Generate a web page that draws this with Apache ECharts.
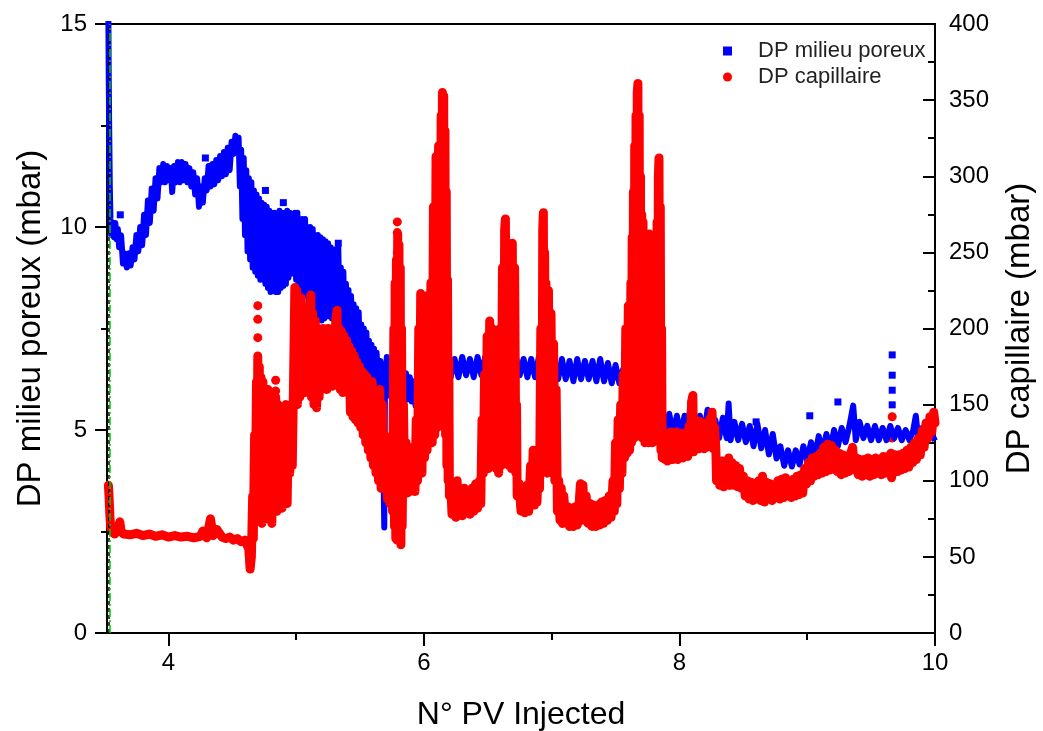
<!DOCTYPE html>
<html><head><meta charset="utf-8">
<script src="https://cdn.jsdelivr.net/npm/echarts@6/dist/echarts.min.js"></script>
<style>html,body{margin:0;padding:0;background:#fff}#c{width:1043px;height:731px}</style>
</head><body><div id="c"></div>
<script>
// ---- data (x = N° PV injected) ----
const xMajorTicks = [4, 6, 8, 10];
const xMinorTicks = [5, 7, 9];

// DP milieu poreux (mbar), left axis, dense band traced as zig-zag
const bluePoreux = [
[3.531,15.0],[3.534,13.5],[3.538,12.2],[3.542,11.0],[3.547,10.2],[3.553,9.8],
[3.565,10.1],[3.575,9.75],[3.585,10.1],[3.595,9.7],[3.605,9.95],
[3.615,9.5],[3.63,9.8],[3.645,9.1],[3.66,9.35],[3.675,9.0],[3.69,9.35],[3.705,9.05],[3.72,9.5],[3.735,9.2],[3.75,9.8],[3.765,9.4],
[3.78,10.0],[3.795,9.55],[3.81,10.3],[3.825,9.8],[3.84,10.65],[3.855,10.1],[3.87,10.95],[3.885,10.4],[3.9,11.2],[3.915,10.7],[3.93,11.45],
[3.945,11.1],[3.96,11.55],[3.975,11.1],[3.99,11.5],[4.005,11.15],[4.02,11.45],[4.03,10.86],[4.045,11.5],[4.06,11.1],
[4.075,11.6],[4.09,11.1],[4.105,11.6],[4.12,11.15],[4.135,11.55],[4.15,11.1],[4.165,11.45],[4.18,11.0],
[4.195,11.35],[4.21,10.8],[4.225,11.2],[4.24,10.5],[4.255,11.0],[4.27,10.6],[4.285,11.2],
[4.3,10.9],[4.315,11.5],[4.33,11.0],[4.345,11.55],[4.36,11.05],[4.375,11.65],[4.39,11.15],[4.405,11.75],[4.42,11.25],[4.435,11.85],[4.45,11.3],[4.465,11.95],[4.48,11.4],[4.495,12.1],
[4.51,11.8],[4.525,12.25],[4.54,11.85],[4.55,12.2],
[4.56,11.0],[4.57,11.9],[4.58,10.2],[4.59,11.7],[4.6,9.8],[4.61,11.4],[4.62,9.4],[4.63,11.2],[4.64,9.2],[4.65,11.1],[4.66,9.0],
[4.67,10.9],[4.68,8.9],[4.69,10.8],[4.7,8.8],[4.71,10.7],[4.72,8.7],[4.73,10.6],[4.74,8.8],[4.75,10.55],[4.76,8.6],[4.77,10.5],[4.78,8.5],[4.79,10.4],[4.8,8.4],[4.81,10.35],[4.82,8.45],[4.83,10.35],[4.84,8.4],
[4.85,10.3],[4.86,8.4],[4.87,10.4],[4.88,8.5],[4.89,10.35],[4.9,8.55],[4.91,10.35],[4.92,8.6],[4.93,10.4],[4.94,8.75],[4.95,10.35],[4.96,8.85],[4.97,10.3],[4.98,8.9],[4.99,10.35],[5.0,8.7],[5.01,10.35],[5.02,8.6],[5.03,10.2],[5.04,8.45],[5.05,10.2],
[5.06,8.35],[5.07,10.2],[5.08,8.3],[5.09,10.0],[5.1,8.15],[5.11,10.0],[5.12,7.95],[5.13,9.95],[5.14,7.9],[5.15,9.8],[5.16,7.8],[5.17,9.8],[5.18,7.75],[5.19,9.75],[5.2,7.7],
[5.21,9.7],[5.22,7.75],[5.23,9.65],[5.24,7.8],[5.25,9.6],[5.26,7.8],[5.27,9.5],[5.28,7.75],[5.29,9.45],[5.3,7.8],[5.31,9.4],[5.32,7.8],[5.33,9.5],[5.34,7.85],
[5.35,9.0],[5.36,7.2],[5.37,8.9],[5.38,7.0],[5.39,8.6],[5.4,6.95],[5.41,8.45],[5.42,6.95],[5.43,8.3],[5.44,6.9],[5.45,8.1],[5.46,6.85],[5.47,8.0],[5.48,6.8],[5.49,7.9],
[5.5,6.4],[5.51,7.6],[5.52,6.35],[5.53,7.5],[5.54,6.3],[5.55,7.4],[5.56,6.25],[5.57,7.2],[5.58,6.2],[5.59,7.1],[5.6,6.15],[5.61,7.0],[5.62,6.1],[5.63,6.9],[5.645,6.05],
[5.66,6.7],[5.675,6.0],[5.685,6.0],[5.69,2.6],[5.695,5.9],
[5.71,6.8],[5.725,5.85],[5.74,6.7],[5.755,5.8],[5.77,6.6],[5.785,5.85],[5.8,6.5],[5.815,5.8],[5.83,6.4],
[5.845,5.8],[5.86,6.4],[5.875,5.75],[5.89,6.3],[5.905,5.7],[5.92,6.2],[5.935,5.6],[5.95,6.1],[5.965,5.5],
[5.98,6.2],[5.995,5.5],[6.01,6.4],[6.025,5.5],[6.04,6.5],[6.055,5.6],[6.07,6.6],[6.085,5.7],[6.1,6.7],[6.115,5.9],[6.13,6.8],[6.145,6.1],[6.16,6.8],[6.175,6.3],
[6.19,6.8],[6.21,6.3],[6.24,6.75],[6.27,6.3],[6.3,6.8],[6.33,6.35],[6.36,6.75],[6.39,6.3],[6.42,6.8],[6.45,6.35],[6.48,6.8],[6.51,6.3],[6.54,6.75],[6.57,6.35],[6.6,6.8],[6.63,6.3],[6.66,6.75],[6.69,6.35],[6.72,6.8],[6.75,6.35],[6.78,6.75],[6.81,6.3],[6.84,6.75],[6.87,6.3],[6.9,6.8],
[6.93,6.3],[6.96,6.75],[6.99,6.25],[7.02,6.7],[7.05,6.25],[7.08,6.75],[7.11,6.25],[7.14,6.7],[7.17,6.2],[7.2,6.75],[7.23,6.25],[7.26,6.7],[7.29,6.25],[7.32,6.7],[7.35,6.2],[7.38,6.75],[7.41,6.2],[7.44,6.65],[7.47,6.15],[7.5,6.6],[7.53,6.15],
[7.56,6.5],[7.59,5.9],[7.62,6.2],[7.64,5.7],[7.66,5.9],[7.68,5.2],[7.7,5.7],[7.72,5.0],
[7.74,5.5],[7.77,4.9],[7.8,5.4],[7.83,4.85],[7.86,5.35],[7.89,4.85],[7.92,5.4],[7.95,4.9],[7.98,5.35],[8.01,4.85],[8.04,5.35],[8.07,4.9],[8.085,5.65],[8.1,5.35],[8.13,4.85],[8.16,5.35],[8.19,4.85],[8.22,5.5],[8.25,4.8],
[8.28,5.25],[8.31,4.8],[8.34,5.3],[8.37,4.8],[8.385,5.65],[8.4,4.75],[8.43,5.2],[8.46,4.75],[8.49,5.15],[8.52,4.7],[8.55,5.1],[8.58,4.6],[8.61,5.15],[8.64,4.55],[8.67,5.0],[8.7,4.4],[8.73,4.9],[8.76,4.3],[8.79,4.6],[8.82,4.12],[8.85,4.5],[8.88,4.1],[8.91,4.5],[8.94,4.15],[8.97,4.6],[9.0,4.25],[9.03,4.7],[9.06,4.35],[9.09,4.85],[9.12,4.45],[9.15,4.9],[9.18,4.5],[9.21,5.0],[9.24,4.6],[9.27,5.05],[9.3,4.7],[9.33,5.1],[9.36,5.6],[9.38,4.75],[9.41,5.2],[9.44,4.8],[9.47,5.1],[9.5,4.75],[9.53,5.1],[9.56,4.75],[9.59,5.05],[9.62,4.75],[9.65,5.1],[9.68,4.8],[9.71,5.05],[9.74,4.75],[9.77,5.0],[9.8,4.75],[9.83,5.0],[9.85,5.35],[9.87,4.75],[9.9,5.05],[9.93,4.75],[9.96,5.0],[9.99,4.8]
];
// isolated squares of DP milieu poreux
const bluePoreuxDots = [
[3.624,10.3],[4.29,11.7],[4.76,10.9],[4.9,10.6],[5.33,9.6],[8.6,5.2],[9.02,5.35],[9.24,5.69],
[9.665,6.85],[9.665,6.35],[9.665,5.98],[9.665,5.62]
];

// DP capillaire (mbar), right axis, dense band traced as zig-zag
const redCapillaire = [
[3.531,97],[3.537,88],[3.542,78],[3.548,70],[3.56,67],[3.58,65],[3.6,67],[3.62,73],[3.63,67],[3.65,65],
[3.7,64.5],[3.75,65.5],[3.8,64],[3.85,65],[3.9,63.5],[3.95,64.5],[4.0,63],[4.05,64],[4.1,63],[4.15,63.5],[4.2,62.5],[4.25,63.5],
[4.27,67],[4.3,62.5],[4.33,75],[4.35,64],[4.38,68],[4.42,63],[4.45,62],[4.48,63],[4.51,61],[4.54,62],[4.57,60],[4.6,61],[4.62,57],
[4.63,55],[4.64,42],[4.65,50],[4.66,90],[4.665,62],[4.675,130],[4.68,75],[4.69,165],[4.695,95],[4.7,182],[4.705,100],[4.712,175],[4.718,80],[4.725,168],[4.732,72],[4.74,165],[4.75,85],[4.76,160],[4.77,75],[4.78,160],[4.79,90],[4.8,158],[4.81,72],[4.82,150],[4.83,95],[4.84,155],[4.85,80],[4.86,150],[4.87,95],[4.88,145],[4.89,82],[4.9,140],[4.91,100],[4.92,150],[4.93,85],[4.94,145],[4.95,105],[4.96,150],[4.97,110],[4.98,165],
[4.99,227],[4.995,160],[5.005,225],[5.01,150],[5.02,215],[5.03,155],[5.04,220],[5.05,160],[5.06,205],[5.07,158],[5.08,210],[5.09,165],[5.1,215],[5.11,160],[5.115,222],[5.12,155],[5.13,210],[5.14,150],[5.15,205],[5.16,148],[5.17,200],[5.18,155],[5.19,198],[5.2,162],[5.21,200],[5.22,165],[5.23,195],[5.24,160],[5.25,200],[5.26,165],[5.27,198],[5.28,162],[5.29,200],[5.3,165],[5.31,205],[5.32,212],[5.325,165],[5.335,200],[5.345,160],[5.355,198],[5.365,158],[5.375,195],[5.385,160],[5.395,192],[5.405,158],
[5.415,188],[5.425,145],[5.435,185],[5.445,142],[5.455,182],[5.465,140],[5.475,178],[5.485,138],[5.495,175],[5.505,135],[5.515,172],[5.525,130],
[5.535,170],[5.545,125],[5.555,168],[5.565,120],[5.575,165],[5.585,115],[5.595,165],[5.605,110],[5.615,160],[5.625,105],[5.635,155],[5.645,100],[5.655,160],[5.665,95],[5.675,150],[5.685,100],[5.69,130],
[5.7,98],[5.705,120],[5.715,88],[5.725,118],[5.735,85],[5.745,115],[5.755,80],[5.765,200],[5.77,70],[5.775,230],[5.78,62],[5.785,245],[5.79,61],[5.795,262],[5.8,66],[5.805,255],[5.81,63],[5.815,240],[5.82,58],[5.825,200],[5.83,70],[5.84,150],[5.85,95],[5.86,125],[5.87,92],[5.88,122],[5.89,93],[5.9,120],[5.91,95],[5.92,122],[5.93,93],[5.94,140],[5.95,100],
[5.96,200],[5.965,110],[5.975,223],[5.985,105],[5.995,220],[6.005,115],[6.015,215],[6.025,120],[6.035,222],[6.045,125],[6.055,230],[6.065,125],[6.075,280],[6.085,130],[6.095,313],[6.105,135],[6.115,320],[6.125,140],[6.135,340],[6.14,150],[6.145,355],[6.15,170],[6.155,353],[6.16,160],[6.165,330],[6.17,130],[6.175,290],[6.18,110],[6.185,232],[6.19,100],[6.195,180],[6.2,90],
[6.21,98],[6.22,78],[6.235,95],[6.25,76],[6.26,100],[6.27,78],[6.285,92],[6.3,77],[6.315,95],[6.33,79],[6.345,92],[6.36,78],[6.375,95],[6.39,80],[6.405,98],[6.42,82],[6.435,100],[6.445,85],
[6.455,140],[6.465,105],[6.475,170],[6.485,110],[6.495,195],[6.505,108],[6.515,205],[6.525,112],[6.535,200],[6.545,110],[6.555,190],[6.565,108],[6.575,180],[6.585,105],[6.595,200],[6.605,110],[6.615,240],[6.625,112],[6.632,265],[6.638,272],[6.645,120],[6.655,245],[6.665,110],[6.675,250],[6.685,108],[6.692,256],[6.7,115],[6.71,240],[6.72,105],[6.725,150],[6.73,90],
[6.745,98],[6.76,80],[6.775,95],[6.79,79],[6.805,97],[6.82,80],[6.835,110],[6.845,85],[6.855,120],[6.865,84],[6.875,115],[6.885,86],[6.895,110],[6.905,95],[6.915,200],[6.925,110],[6.93,265],[6.935,276],[6.94,120],[6.945,250],[6.95,108],[6.955,230],[6.965,105],[6.975,225],[6.985,110],[6.995,210],[7.005,105],[7.015,190],[7.025,100],[7.035,160],[7.045,80],
[7.055,100],[7.065,74],[7.075,95],[7.085,72],[7.095,90],[7.11,73],[7.125,83],[7.14,70],[7.155,82],[7.17,70],[7.185,83],[7.2,71],[7.215,85],[7.225,98],[7.235,74],[7.245,97],[7.255,75],[7.27,90],[7.285,72],[7.3,85],[7.315,70],[7.33,84],[7.345,70],[7.36,84],[7.375,71],[7.39,86],[7.405,72],[7.42,87],[7.435,74],[7.45,90],[7.465,76],
[7.48,100],[7.49,80],[7.5,125],[7.51,85],[7.52,140],[7.53,95],[7.54,150],[7.55,105],[7.56,170],[7.57,115],[7.58,200],[7.59,118],[7.6,215],[7.61,120],
[7.62,230],[7.625,125],[7.63,260],[7.635,130],[7.64,290],[7.645,128],[7.65,320],[7.655,135],[7.66,340],[7.665,130],[7.67,355],[7.675,361],[7.68,140],[7.685,340],[7.69,135],[7.695,300],[7.7,130],[7.705,275],[7.71,128],[7.715,270],[7.72,132],[7.725,260],[7.73,125],[7.735,255],[7.74,128],[7.745,262],[7.75,130],[7.755,250],[7.76,125],[7.765,262],[7.77,128],[7.775,255],[7.78,130],[7.785,250],[7.79,125],[7.795,245],[7.8,130],[7.805,255],[7.81,128],[7.815,260],[7.82,130],[7.825,270],[7.83,135],[7.835,300],[7.84,312],[7.845,140],[7.85,280],[7.855,120],[7.86,200],[7.865,115],
[7.875,128],[7.885,114],[7.895,131],[7.905,113],[7.915,130],[7.925,115],[7.935,132],[7.945,114],[7.955,129],[7.965,116],[7.975,132],[7.985,114],[7.995,130],[8.005,117],[8.015,131],[8.025,115],[8.035,130],[8.045,117],[8.055,132],[8.065,116],[8.075,136],[8.085,119],[8.095,152],[8.105,156],[8.11,119],[8.12,140],[8.13,122],[8.14,138],[8.15,121],[8.16,139],[8.17,123],[8.18,137],[8.19,121],[8.2,138],[8.21,122],[8.22,137],[8.23,124],[8.24,141],[8.25,123],[8.255,145],[8.265,121],[8.275,135],[8.285,121],
[8.29,100],[8.3,112],[8.315,97],[8.33,113],[8.345,96],[8.36,112],[8.375,98],[8.385,115],[8.395,97],[8.41,112],[8.425,97],[8.44,110],[8.455,96],[8.47,108],[8.485,95],[8.5,103],
[8.515,90],[8.53,100],[8.545,88],[8.56,99],[8.575,87],[8.59,98],[8.605,88],[8.62,100],[8.635,87],[8.65,103],[8.665,86],[8.68,99],[8.695,88],[8.71,98],[8.725,87],[8.74,97],[8.755,89],[8.77,100],
[8.785,88],[8.8,101],[8.815,89],[8.83,102],[8.845,90],[8.86,100],[8.875,89],[8.89,101],[8.905,90],[8.92,103],[8.935,91],[8.95,104],[8.965,92],
[8.98,108],[8.995,98],[9.01,112],[9.025,100],[9.04,115],[9.055,103],[9.07,116],[9.085,104],[9.1,118],[9.115,105],
[9.13,122],[9.145,106],[9.16,124],[9.175,107],[9.19,123],[9.205,108],[9.22,120],
[9.235,106],[9.25,118],[9.265,104],[9.28,117],[9.295,105],[9.31,116],[9.325,106],[9.34,118],[9.355,122],[9.37,107],[9.385,115],
[9.4,104],[9.415,114],[9.43,103],[9.445,114],[9.46,104],[9.475,115],[9.49,103],[9.505,114],[9.52,104],[9.535,115],[9.55,105],[9.565,114],[9.58,104],[9.595,116],[9.61,105],[9.625,116],[9.64,106],[9.655,118],[9.66,102],
[9.675,110],[9.69,117],[9.705,106],[9.72,117],[9.735,107],[9.75,118],[9.765,108],[9.78,120],[9.795,109],[9.81,122],[9.825,112],
[9.84,125],[9.855,114],[9.87,128],[9.885,117],[9.9,133],[9.915,122],[9.93,138],[9.945,128],[9.96,142],[9.975,132],[9.99,145],[10.0,138]
];
// isolated circles of DP capillaire
const redCapillaireDots = [
[4.7,215],[4.7,206],[4.7,194],[4.84,166],[4.84,159],[5.792,270],[5.792,263],[5.792,250],[9.665,142],[9.665,128]
];

const nameBlue = 'DP milieu poreux';
const nameRed = 'DP capillaire';

const chart = echarts.init(document.getElementById('c'));
const FONT = 'Liberation Sans, Arial, sans-serif';
const xCommon = {type:'value', min:3.52, max:10, splitLine:{show:false}};
chart.setOption({
  animation:false,
  backgroundColor:'#fff',
  grid:{left:107, right:108, top:24, bottom:98, outerBoundsMode:'none', containLabel:false,
        show:true, borderColor:'#000', borderWidth:2, backgroundColor:'transparent'},
  legend:{
    orient:'vertical', left:718, top:35, itemWidth:9, itemHeight:9, itemGap:4,
    textStyle:{fontFamily:FONT, fontSize:22, color:'#222', padding:[0,0,0,21]},
    data:[{name:nameBlue, icon:'rect'},{name:nameRed, icon:'circle'}]
  },
  xAxis:[
    Object.assign({}, xCommon, {
      position:'bottom',
      name:'N° PV Injected', nameLocation:'middle', nameGap:66,
      nameTextStyle:{fontFamily:FONT, fontSize:32, color:'#000'},
      axisLine:{show:true, onZero:false, lineStyle:{color:'#000', width:2}},
      axisTick:{show:true, inside:false, length:13, lineStyle:{width:2, color:'#000'}, customValues:xMajorTicks},
      axisLabel:{customValues:xMajorTicks, margin:18, fontFamily:FONT, fontSize:24, color:'#000'}
    }),
    Object.assign({}, xCommon, {
      position:'bottom',
      axisLine:{show:false},
      axisTick:{show:true, inside:false, length:7, lineStyle:{width:2, color:'#000'}, customValues:xMinorTicks},
      axisLabel:{show:false, customValues:xMinorTicks}
    })
  ],
  yAxis:[
    {type:'value', position:'left', min:0, max:15, interval:5,
     name:'DP milieu poreux (mbar)', nameLocation:'middle', nameGap:60,
     nameTextStyle:{fontFamily:FONT, fontSize:33, color:'#000'},
     axisLine:{show:true, lineStyle:{color:'#000', width:2}},
     axisTick:{show:true, inside:false, length:12, lineStyle:{width:2, color:'#000'}},
     minorTick:{show:true, splitNumber:2, length:6, lineStyle:{width:2, color:'#000'}},
     axisLabel:{margin:20, fontFamily:FONT, fontSize:24, color:'#000'},
     splitLine:{show:false}},
    {type:'value', position:'right', min:0, max:400, interval:50,
     name:'DP capillaire (mbar)', nameLocation:'middle', nameGap:68,
     nameTextStyle:{fontFamily:FONT, fontSize:33, color:'#000'},
     axisLine:{show:true, lineStyle:{color:'#000', width:2}},
     axisTick:{show:true, inside:true, length:12, lineStyle:{width:2, color:'#000'}},
     minorTick:{show:true, splitNumber:2, length:7, lineStyle:{width:2, color:'#000'}},
     axisLabel:{margin:14, fontFamily:FONT, fontSize:24, color:'#000'},
     splitLine:{show:false}}
  ],
  series:[
    {name:nameBlue, type:'line', xAxisIndex:0, yAxisIndex:0, data:bluePoreux, showSymbol:false, symbol:'rect',
     itemStyle:{color:'#0000ff'},
     lineStyle:{color:'#0000ff', width:6, join:'round', cap:'square'},
     markLine:{silent:true, symbol:'none', label:{show:false},
       data:[{xAxis:3.533, lineStyle:{color:'#000', type:[4,3], width:1.5}},
             {xAxis:3.536, lineStyle:{color:'#00cc00', type:[8,3,2,3], width:1.5}}]}},
    {name:nameBlue, type:'scatter', xAxisIndex:0, yAxisIndex:0, data:bluePoreuxDots, symbol:'rect', symbolSize:7,
     itemStyle:{color:'#0000ff', opacity:1}},
    {name:nameRed, type:'line', xAxisIndex:0, yAxisIndex:1, data:redCapillaire, showSymbol:false, symbol:'circle',
     itemStyle:{color:'#ff0000'},
     lineStyle:{color:'#ff0000', width:9, join:'round', cap:'round'}},
    {name:nameRed, type:'scatter', xAxisIndex:0, yAxisIndex:1, data:redCapillaireDots, symbol:'circle', symbolSize:9,
     itemStyle:{color:'#ff0000', opacity:1}}
  ]
});
</script>
</body></html>
